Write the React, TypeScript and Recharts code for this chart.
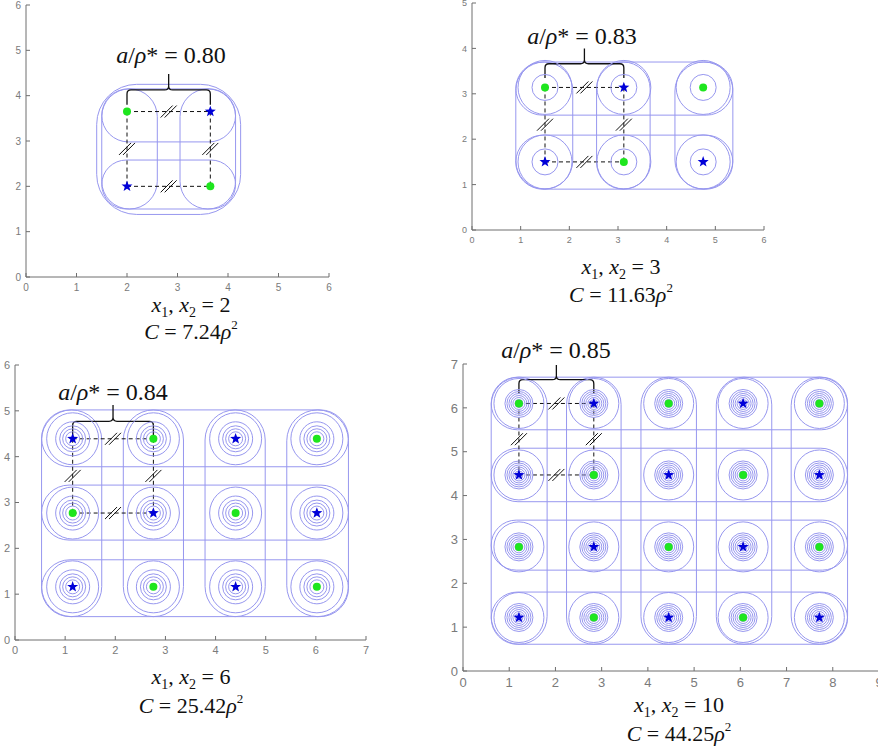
import React from "react";
import { ScatterChart, Scatter, XAxis, YAxis, ReferenceArea, ReferenceLine, ReferenceDot } from "recharts";

const CONTOUR = "#9797ef";
const AXIS = "#6e6e6e";
const TICK = "#7a7a7a";
const GREEN = "#1ee61e";
const BLUE = "#0000d8";

// panel 1: x1, x2 = 2
const p1XTicks = [0, 1, 2, 3, 4, 5, 6];
const p1YTicks = [0, 1, 2, 3, 4, 5, 6];
const p1Cols = [2, 3.65];
const p1Rows = [3.65, 2];
const p1Kinds = ["GS", "SG"];
const p1ColBands = [[1.5, 2.6], [3.05, 4.15]];
const p1RowBands = [[2.98, 4.15], [1.5, 2.58]];
const p1Outer = [1.4, 4.25, 1.38, 4.25];
const p1Rings: number[] = [];
const p1Brace = [3.8, 4.48];

// panel 2: x1, x2 = 3
const p2XTicks = [0, 1, 2, 3, 4, 5, 6];
const p2YTicks = [0, 1, 2, 3, 4, 5];
const p2Cols = [1.5, 3.12, 4.75];
const p2Rows = [3.14, 1.5];
const p2Kinds = ["GSG", "SGS"];
const p2ColBands = [[0.9, 2.07], [2.56, 3.66], [4.17, 5.36]];
const p2RowBands = [[2.53, 3.7], [0.9, 2.09]];
const p2Rings = [13, 27];
const p2Brace = [3.35, 4.0];

// panel 3: x1, x2 = 6
const p3XTicks = [0, 1, 2, 3, 4, 5, 6, 7];
const p3YTicks = [0, 1, 2, 3, 4, 5, 6];
const p3Cols = [1.15, 2.76, 4.4, 6.02];
const p3Rows = [4.39, 2.77, 1.16];
const p3Kinds = ["SGSG", "GSGS", "SGSG"];
const p3ColBands = [[0.53, 1.73], [2.16, 3.36], [3.79, 4.99], [5.42, 6.65]];
const p3RowBands = [[3.78, 5.02], [2.18, 3.38], [0.51, 1.75]];
const p3Rings = [7, 10, 13, 17, 26];
const p3Brace = [4.44, 5.13];

// panel 4: x1, x2 = 10
const p4XTicks = [0, 1, 2, 3, 4, 5, 6, 7, 8, 9];
const p4YTicks = [0, 1, 2, 3, 4, 5, 6, 7];
const p4Cols = [1.21, 2.83, 4.45, 6.06, 7.71];
const p4Rows = [6.1, 4.47, 2.83, 1.22];
const p4Kinds = ["GSGSG", "SGSGS", "GSGSG", "SGSGS"];
const p4ColBands = [[0.61, 1.82], [2.24, 3.42], [3.85, 5.05], [5.48, 6.68], [7.1, 8.32]];
const p4RowBands = [[5.5, 6.7], [3.86, 5.08], [2.3, 3.44], [0.61, 1.8]];
const p4Rings = [4, 6, 8, 10, 12, 14, 25];
const p4Brace = [6.33, 6.98];

const ratios = ["0.80", "0.83", "0.84", "0.85"];
const sizes = ["2", "3", "6", "10"];
const capacities = ["7.24", "11.63", "25.42", "44.25"];

const panels = [
  { box: { left: 26, top: 5, w: 303, h: 272 }, font: 10, xTicks: p1XTicks, yTicks: p1YTicks, cols: p1Cols, rows: p1Rows, kinds: p1Kinds, colBands: p1ColBands, rowBands: p1RowBands, outer: p1Outer, rings: p1Rings, brace: p1Brace, label: { cx: 171, y: 63 }, cap: { cx: 191, y1: 312, y2: 339 } },
  { box: { left: 472, top: 3, w: 292, h: 227 }, font: 9, xTicks: p2XTicks, yTicks: p2YTicks, cols: p2Cols, rows: p2Rows, kinds: p2Kinds, colBands: p2ColBands, rowBands: p2RowBands, outer: null, rings: p2Rings, brace: p2Brace, label: { cx: 582, y: 44 }, cap: { cx: 621, y1: 274, y2: 302 } },
  { box: { left: 15, top: 365, w: 351, h: 275 }, font: 11, xTicks: p3XTicks, yTicks: p3YTicks, cols: p3Cols, rows: p3Rows, kinds: p3Kinds, colBands: p3ColBands, rowBands: p3RowBands, outer: null, rings: p3Rings, brace: p3Brace, label: { cx: 113, y: 400 }, cap: { cx: 191, y1: 684, y2: 713 } },
  { box: { left: 463, top: 364, w: 416, h: 307 }, font: 13, xTicks: p4XTicks, yTicks: p4YTicks, cols: p4Cols, rows: p4Rows, kinds: p4Kinds, colBands: p4ColBands, rowBands: p4RowBands, outer: null, rings: p4Rings, brace: p4Brace, label: { cx: 556, y: 358 }, cap: { cx: 679, y1: 712, y2: 741 } },
];

const M = 5;
const L = 4;

const mkTick = (orient: string, font: number, label: boolean) => (props: any) => {
  const { x, y, payload } = props;
  const txt = { fontSize: font, fill: TICK, style: { fontFamily: "Arial, 'Liberation Sans', sans-serif" } };
  if (orient === "bottom")
    return (
      <g>
        <line x1={x} x2={x} y1={y - M} y2={y - M - L} stroke={AXIS} />
        {label && <text x={x} y={y + 1} dy="0.75em" textAnchor="middle" {...txt}>{payload.value}</text>}
      </g>
    );
  if (orient === "left")
    return (
      <g>
        <line x1={x + M} x2={x + M + L} y1={y} y2={y} stroke={AXIS} />
        {label && <text x={x} y={y} dy="0.36em" textAnchor="end" {...txt}>{payload.value}</text>}
      </g>
    );
  if (orient === "top")
    return <line x1={x} x2={x} y1={y + M} y2={y + M + L} stroke={AXIS} />;
  return <line x1={x - M} x2={x - M - L} y1={y} y2={y} stroke={AXIS} />;
};

const bandShape = (p: any) => (
  <rect x={p.x} y={p.y} width={p.width} height={p.height} rx={Math.min(p.width, p.height) / 2} fill="none" stroke={CONTOUR} strokeWidth={1} />
);

const outerShape = (p: any) => (
  <rect x={p.x} y={p.y} width={p.width} height={p.height} rx={40} fill="none" stroke={CONTOUR} strokeWidth={1} />
);

const braceShape = (p: any) => {
  const { x, y, width: w, height: h } = p;
  const yb = y + h * 0.52;
  const cx = x + w / 2;
  const k = 4;
  const d = `M${x},${y + h} L${x},${yb + k} Q${x},${yb} ${x + k},${yb} L${cx - k},${yb} Q${cx},${yb} ${cx},${yb - k} L${cx},${y} M${cx},${yb - k} Q${cx},${yb} ${cx + k},${yb} L${x + w - k},${yb} Q${x + w},${yb} ${x + w},${yb + k} L${x + w},${y + h}`;
  return <path d={d} fill="none" stroke="#111" strokeWidth={1.3} />;
};

const slashShape = (p: any) => {
  const { cx, cy } = p;
  return (
    <g stroke="#111" strokeWidth={1}>
      <line x1={cx - 8} y1={cy + 6} x2={cx + 4} y2={cy - 6} />
      <line x1={cx - 4} y1={cy + 6} x2={cx + 8} y2={cy - 6} />
    </g>
  );
};

const starPath = (cx: number, cy: number, ro: number, ri: number) => {
  let d = "";
  for (let i = 0; i < 10; i++) {
    const r = i % 2 === 0 ? ro : ri;
    const a = -Math.PI / 2 + (i * Math.PI) / 5;
    d += `${i === 0 ? "M" : "L"}${cx + r * Math.cos(a)},${cy + r * Math.sin(a)}`;
  }
  return d + "Z";
};

const starShape = (p: any) => <path d={starPath(p.cx, p.cy, 5.8, 2.4)} fill={BLUE} />;
const dotShape = (p: any) => <circle cx={p.cx} cy={p.cy} r={4} fill={GREEN} />;

function Panel({ cfg }: { cfg: any }) {
  const { box, font, xTicks, yTicks, cols, rows, kinds, colBands, rowBands, outer, rings, brace } = cfg;
  const AXL = 30, AXB = 26, MT = 10, MR = 10;
  const xMax = xTicks[xTicks.length - 1];
  const yMax = yTicks[yTicks.length - 1];
  const pts = rows.flatMap((y: number, r: number) => cols.map((x: number, c: number) => ({ x, y, kind: kinds[r][c] })));
  const greens = pts.filter((p: any) => p.kind === "G");
  const stars = pts.filter((p: any) => p.kind === "S");
  const colLo = Math.min(...colBands.map((b: number[]) => b[0]));
  const colHi = Math.max(...colBands.map((b: number[]) => b[1]));
  const rowLo = Math.min(...rowBands.map((b: number[]) => b[0]));
  const rowHi = Math.max(...rowBands.map((b: number[]) => b[1]));
  const [c0, c1] = cols;
  const [r0, r1] = rows;
  const slashes = [
    { x: (c0 + c1) / 2, y: r0 },
    { x: (c0 + c1) / 2, y: r1 },
    { x: c0, y: (r0 + r1) / 2 },
    { x: c1, y: (r0 + r1) / 2 },
  ];
  const dash = { stroke: "#111", strokeDasharray: "4 3", strokeWidth: 1 };

  return (
    <div style={{ position: "absolute", left: box.left - AXL, top: box.top - MT }}>
      <ScatterChart width={box.w + AXL + MR} height={box.h + MT + AXB} margin={{ top: MT, right: MR, left: 0, bottom: 0 }}>
        <XAxis type="number" dataKey="x" domain={[0, xMax]} ticks={xTicks} interval={0} allowDataOverflow height={AXB} tickSize={0} tickMargin={M} tickLine={false} axisLine={{ stroke: AXIS }} tick={mkTick("bottom", font, true)} />
        <YAxis type="number" dataKey="y" domain={[0, yMax]} ticks={yTicks} interval={0} allowDataOverflow width={AXL} tickSize={0} tickMargin={M} tickLine={false} axisLine={{ stroke: AXIS }} tick={mkTick("left", font, true)} />
        <XAxis xAxisId="t" orientation="top" type="number" domain={[0, xMax]} ticks={xTicks} interval={0} allowDataOverflow height={0} tickSize={0} tickMargin={M} tickLine={false} axisLine={{ stroke: AXIS }} tick={mkTick("top", font, false)} />
        <YAxis yAxisId="r" orientation="right" type="number" domain={[0, yMax]} ticks={yTicks} interval={0} allowDataOverflow width={0} tickSize={0} tickMargin={M} tickLine={false} axisLine={{ stroke: AXIS }} tick={mkTick("right", font, false)} />

        {outer && <ReferenceArea x1={outer[0]} x2={outer[1]} y1={outer[2]} y2={outer[3]} shape={outerShape} />}
        {colBands.map((b: number[], i: number) => (
          <ReferenceArea key={`c${i}`} x1={b[0]} x2={b[1]} y1={rowLo} y2={rowHi} shape={bandShape} />
        ))}
        {rowBands.map((b: number[], i: number) => (
          <ReferenceArea key={`r${i}`} x1={colLo} x2={colHi} y1={b[0]} y2={b[1]} shape={bandShape} />
        ))}

        {rings.length > 0 && (
          <Scatter data={pts} isAnimationActive={false} shape={(p: any) => (
            <g>{rings.map((r: number) => <circle key={r} cx={p.cx} cy={p.cy} r={r} fill="none" stroke={CONTOUR} strokeWidth={1} />)}</g>
          )} />
        )}

        <ReferenceLine segment={[{ x: c0, y: r0 }, { x: c1, y: r0 }]} {...dash} />
        <ReferenceLine segment={[{ x: c0, y: r1 }, { x: c1, y: r1 }]} {...dash} />
        <ReferenceLine segment={[{ x: c0, y: r0 }, { x: c0, y: r1 }]} {...dash} />
        <ReferenceLine segment={[{ x: c1, y: r0 }, { x: c1, y: r1 }]} {...dash} />

        <Scatter data={greens} isAnimationActive={false} shape={dotShape} />
        <Scatter data={stars} isAnimationActive={false} shape={starShape} />

        {slashes.map((s, i) => (
          <ReferenceDot key={`s${i}`} x={s.x} y={s.y} r={1} shape={slashShape} />
        ))}
        <ReferenceArea x1={c0} x2={c1} y1={brace[0]} y2={brace[1]} shape={braceShape} />
      </ScatterChart>
    </div>
  );
}

const serif = { fontFamily: "'Times New Roman', 'Liberation Serif', Times, serif" };

function Texts() {
  return (
    <svg width={878} height={753} style={{ position: "absolute", left: 0, top: 0, pointerEvents: "none" }}>
      {panels.map((p, i) => (
        <g key={i} fill="#111">
          <text x={p.label.cx} y={p.label.y} fontSize={24} textAnchor="middle" style={serif}>
            <tspan fontStyle="italic">a</tspan>
            <tspan>/</tspan>
            <tspan fontStyle="italic">ρ</tspan>
            <tspan>{`* = ${ratios[i]}`}</tspan>
          </text>
          <text x={p.cap.cx} y={p.cap.y1} fontSize={22} textAnchor="middle" style={serif}>
            <tspan fontStyle="italic">x</tspan>
            <tspan fontSize={14} dy={5}>1</tspan>
            <tspan dy={-5}>, </tspan>
            <tspan fontStyle="italic">x</tspan>
            <tspan fontSize={14} dy={5}>2</tspan>
            <tspan dy={-5}>{` = ${sizes[i]}`}</tspan>
          </text>
          <text x={p.cap.cx} y={p.cap.y2} fontSize={22} textAnchor="middle" style={serif}>
            <tspan fontStyle="italic">C</tspan>
            <tspan>{` = ${capacities[i]}`}</tspan>
            <tspan fontStyle="italic">ρ</tspan>
            <tspan fontSize={13} dy={-10}>2</tspan>
          </text>
        </g>
      ))}
    </svg>
  );
}

export default function App() {
  return (
    <div style={{ position: "absolute", left: 0, top: 0, width: 878, height: 753, overflow: "hidden", background: "#fff" }}>
      {panels.map((p, i) => (
        <Panel key={i} cfg={p} />
      ))}
      <Texts />
    </div>
  );
}
